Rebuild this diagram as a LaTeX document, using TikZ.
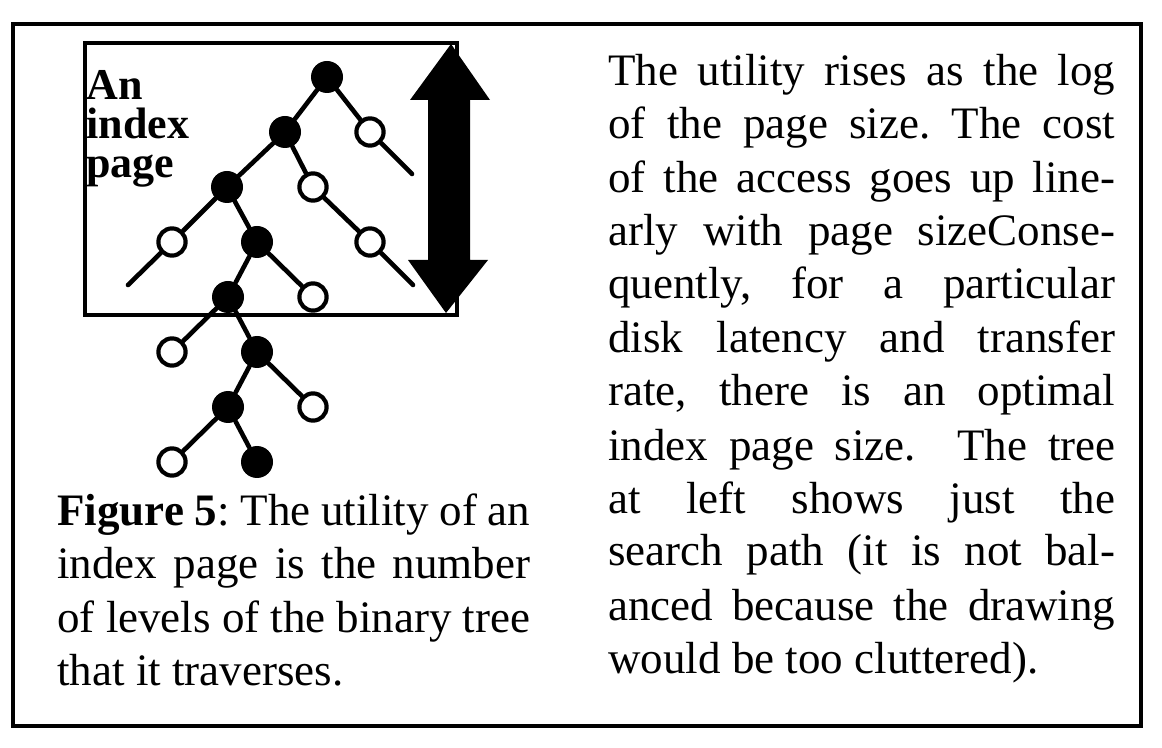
\documentclass[tikz,border=0pt]{standalone}
\usepackage{fontspec}
\setmainfont{Liberation Serif}
\frenchspacing
\begin{document}
\begin{tikzpicture}[x=0.5pt,y=-0.5pt,
  full/.style={circle, fill=black, minimum size=16pt, inner sep=0pt},
  hollow/.style={circle, draw=black, line width=2.1pt, fill=white, minimum size=13.6pt, inner sep=0pt},
  edge/.style={line width=2.3pt, line cap=round},
  frame/.style={line width=2pt},
  txt/.style={anchor=base west, inner sep=0pt, font=\fontsize{22.5pt}{27pt}\selectfont},
  lbl/.style={anchor=north west, inner sep=0pt, align=left, font=\fontsize{22pt}{19.5pt}\selectfont\bfseries}]
\useasboundingbox (0,0) rectangle (1162,748);
\fill[white] (0,0) rectangle (1162,748);
\draw[frame] (13,24) rectangle (1141,726);
\draw[frame] (85,43) rectangle (457,315);
% tree nodes
\node[full]   (root) at (327,77) {};
\node[full]   (a) at (285,132) {};
\node[hollow] (b) at (370,132) {};
\node[full]   (c) at (227,187) {};
\node[hollow] (d) at (313,187) {};
\node[hollow] (e) at (370,242) {};
\node[hollow] (f) at (172,242) {};
\node[full]   (g) at (257,242) {};
\node[full]   (h) at (228,297) {};
\node[hollow] (i) at (313,297) {};
\node[hollow] (j) at (172,352) {};
\node[full]   (k) at (257,352) {};
\node[full]   (l) at (228,407) {};
\node[hollow] (m) at (313,407) {};
\node[hollow] (n) at (172,462) {};
\node[full]   (o) at (257,462) {};
\coordinate (bl) at (412,174);
\coordinate (el) at (413,285);
\coordinate (fl) at (128,285);
\draw[edge] (root) -- (a);
\draw[edge] (root) -- (b);
\draw[edge] (b) -- (bl);
\draw[edge] (a) -- (c);
\draw[edge] (a) -- (d);
\draw[edge] (d) -- (e);
\draw[edge] (e) -- (el);
\draw[edge] (c) -- (f);
\draw[edge] (f) -- (fl);
\draw[edge] (c) -- (g);
\draw[edge] (g) -- (h);
\draw[edge] (g) -- (i);
\draw[edge] (h) -- (j);
\draw[edge] (h) -- (k);
\draw[edge] (k) -- (l);
\draw[edge] (k) -- (m);
\draw[edge] (l) -- (n);
\draw[edge] (l) -- (o);
% double arrow
\fill[black] (451,44) -- (490,100) -- (470,100) -- (470,260) -- (488,260)
  -- (446,313) -- (408,260) -- (428,260) -- (428,100) -- (410,100) -- cycle;
% label
\node[lbl] (lab) at (86,70) {An\\index\\page};
% right column
\node[txt] (r1)  at (608,86)  {\makebox[253.5pt][s]{The utility rises as the log}};
\node[txt] (r2)  at (608,139) {\makebox[253.5pt][s]{of the page size. The cost}};
\node[txt] (r3)  at (608,193) {\makebox[253.5pt][s]{of the access goes up line-}};
\node[txt] (r4)  at (608,246) {\makebox[253.5pt][s]{arly with page sizeConse-}};
\node[txt] (r5)  at (608,299) {\makebox[253.5pt][s]{quently, for a particular}};
\node[txt] (r6)  at (608,353) {\makebox[253.5pt][s]{disk latency and transfer}};
\node[txt] (r7)  at (608,406) {\makebox[253.5pt][s]{rate, there is an optimal}};
\node[txt] (r8)  at (608,460) {\makebox[253.5pt][s]{index page size.\ \ The tree}};
\node[txt] (r9)  at (608,513) {\makebox[253.5pt][s]{at left shows just the}};
\node[txt] (r10) at (608,566) {\makebox[253.5pt][s]{search path (it is not bal-}};
\node[txt] (r11) at (608,620) {\makebox[253.5pt][s]{anced because the drawing}};
\node[txt] (r12) at (608,673) {would be too cluttered).};
% caption
\node[txt] (c1) at (57,525) {\makebox[236.5pt][s]{\textbf{Figure 5}: The utility of an}};
\node[txt] (c2) at (57,578) {\makebox[236.5pt][s]{index page is the number}};
\node[txt] (c3) at (57,632) {\makebox[236.5pt][s]{of levels of the binary tree}};
\node[txt] (c4) at (57,685) {that it traverses.};
\end{tikzpicture}
\end{document}
